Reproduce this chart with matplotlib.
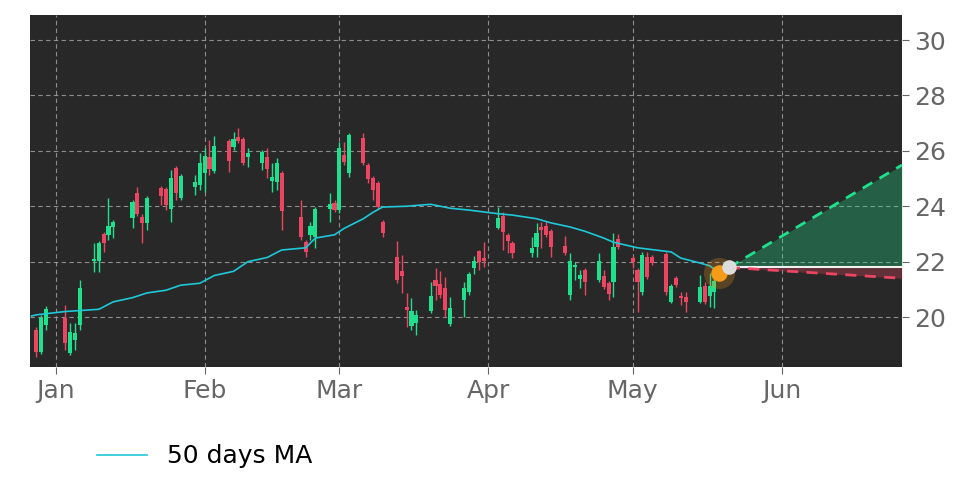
import matplotlib
matplotlib.use("Agg")
import matplotlib.pyplot as plt
import matplotlib.dates as mdates
import numpy as np
import pandas as pd

# trading days shown (NYSE holidays skipped)
holidays = ["2023-01-02", "2023-01-16", "2023-02-20", "2023-04-07"]
dates = pd.bdate_range("2022-12-28", "2023-05-18", freq="C", holidays=holidays)

opens = [19.53, 18.74, 19.71, 19.96, 18.70, 19.17, 19.71, 22.02, 22.02, 23.00,
         22.96, 23.25, 23.57, 24.48, 23.61, 23.39, 24.66, 24.62, 23.90, 25.38,
         24.30, 24.69, 24.77, 25.20, 25.78, 25.27, 26.35, 26.14, 26.50, 26.43,
         25.78, 25.56, 25.78, 24.91, 24.87, 25.20, 23.61, 22.71, 22.96, 22.89,
         23.90, 24.12, 23.86, 25.85, 25.20, 26.46, 25.49, 25.02, 24.84, 23.43,
         22.17, 21.66, 20.36, 19.68, 19.78, 20.22, 21.34, 21.19, 21.05, 19.75,
         20.61, 20.90, 21.77, 22.38, 22.13, 23.21, 23.65, 22.96, 22.67, 22.31,
         22.53, 23.25, 23.29, 23.10, 22.56, 20.79, 21.80, 21.37, 21.70, 21.34,
         21.48, 21.23, 21.26, 22.82, 22.13, 21.70, 20.90, 22.17, 22.17, 22.27,
         20.54, 21.41, 20.76, 20.72, 20.54, 21.12, 20.76, 20.90]
highs = [19.64, 20.07, 20.40, 20.43, 19.78, 19.78, 21.34, 22.67, 22.74, 23.07,
         24.30, 23.50, 24.22, 24.69, 23.72, 24.37, 24.73, 24.69, 25.31, 25.45,
         25.16, 25.13, 25.92, 26.10, 26.39, 26.53, 26.43, 26.68, 26.82, 26.50,
         26.10, 26.03, 26.10, 25.56, 25.74, 25.27, 24.22, 22.78, 23.43, 23.97,
         24.48, 24.22, 26.32, 26.32, 26.64, 26.64, 25.56, 25.09, 24.91, 23.50,
         22.74, 22.24, 20.87, 20.69, 20.25, 21.26, 21.77, 21.66, 21.44, 20.72,
         21.26, 21.62, 22.20, 22.42, 22.71, 23.97, 23.79, 23.03, 22.74, 22.89,
         23.39, 23.43, 23.47, 23.18, 22.92, 22.31, 21.99, 21.70, 21.77, 22.31,
         21.70, 21.30, 23.03, 23.00, 22.20, 21.77, 22.35, 22.35, 22.24, 22.35,
         21.19, 21.48, 20.90, 20.90, 21.52, 21.26, 21.59, 21.62]
lows = [18.56, 18.66, 19.53, 18.81, 18.63, 18.81, 19.53, 21.62, 21.62, 22.35,
        22.78, 22.85, 23.21, 23.65, 22.67, 23.14, 24.04, 23.86, 23.43, 24.22,
        24.22, 24.40, 24.58, 24.51, 25.13, 25.20, 25.23, 26.03, 26.28, 25.49,
        25.42, 25.31, 25.02, 24.51, 24.58, 23.14, 22.78, 22.17, 22.78, 22.49,
        23.43, 23.79, 23.75, 25.49, 25.05, 25.49, 24.84, 24.22, 23.90, 22.89,
        21.23, 20.87, 19.64, 19.53, 19.35, 20.14, 20.61, 20.69, 20.00, 19.68,
        20.00, 20.79, 21.55, 21.70, 21.80, 23.18, 22.42, 22.31, 22.13, 22.17,
        22.17, 22.49, 22.89, 22.17, 22.24, 20.61, 21.34, 21.05, 20.79, 21.26,
        21.01, 20.61, 20.72, 22.45, 21.77, 20.18, 20.79, 21.37, 21.88, 20.79,
        20.51, 21.08, 20.43, 20.18, 20.51, 20.47, 20.36, 20.32]
closes = [18.74, 19.96, 20.29, 19.06, 19.46, 19.42, 21.05, 22.09, 22.67, 22.67,
          23.29, 23.43, 24.15, 23.72, 23.39, 24.30, 24.37, 24.04, 25.02, 24.48,
          25.09, 24.87, 25.56, 25.81, 25.34, 26.17, 25.63, 26.43, 26.35, 25.56,
          25.92, 25.96, 25.34, 25.05, 25.56, 23.83, 22.89, 22.35, 23.29, 23.90,
          24.08, 23.86, 26.10, 25.60, 26.57, 25.56, 24.98, 24.58, 23.97, 23.03,
          21.34, 21.48, 20.25, 20.22, 20.07, 20.76, 21.12, 20.79, 20.25, 20.32,
          21.05, 21.55, 22.02, 21.99, 22.02, 23.57, 23.07, 22.74, 22.31, 22.49,
          23.03, 23.14, 22.96, 22.53, 22.31, 22.02, 21.88, 21.52, 21.26, 22.02,
          21.08, 20.83, 22.53, 22.53, 21.99, 21.26, 22.24, 21.44, 21.95, 20.90,
          21.12, 21.16, 20.69, 20.54, 21.08, 20.54, 21.12, 21.30]

# 50 days moving average, read at sampled dates
ma_dates = ["2022-12-27", "2022-12-28", "2023-01-03", "2023-01-10", "2023-01-13",
            "2023-01-17", "2023-01-20", "2023-01-24", "2023-01-27", "2023-01-31",
            "2023-02-03", "2023-02-07", "2023-02-10", "2023-02-14", "2023-02-17",
            "2023-02-22", "2023-02-24", "2023-02-28", "2023-03-02", "2023-03-06",
            "2023-03-08", "2023-03-10", "2023-03-15", "2023-03-20", "2023-03-22",
            "2023-03-24", "2023-03-28", "2023-04-03", "2023-04-06", "2023-04-11",
            "2023-04-14", "2023-04-18", "2023-04-21", "2023-04-25", "2023-04-27",
            "2023-05-02", "2023-05-09", "2023-05-11", "2023-05-15", "2023-05-17",
            "2023-05-18"]
ma_values = [20.04, 20.08, 20.20, 20.28, 20.55, 20.70, 20.87, 20.97, 21.15, 21.22,
             21.50, 21.65, 22.00, 22.15, 22.42, 22.50, 22.85, 22.97, 23.20, 23.55,
             23.78, 23.97, 24.00, 24.07, 24.00, 23.93, 23.86, 23.73, 23.68, 23.55,
             23.40, 23.25, 23.10, 22.85, 22.70, 22.50, 22.35, 22.13, 21.95, 21.85,
             21.73]

last_date, last_price = "2023-05-19", 21.58
proj_start, proj_start_price = "2023-05-21", 21.79
proj_end = "2023-06-26"
proj_high, proj_low = 25.49, 21.40

up_col = "#1fe08c"
down_col = "#eb4562"

fig = plt.figure(figsize=(9.72, 4.86), dpi=100)
ax = fig.add_axes([0.031, 0.245, 0.897, 0.724])
ax.set_facecolor("#282828")

x = mdates.date2num(dates)
o = np.array(opens)
h = np.array(highs)
l = np.array(lows)
c = np.array(closes)
cols = np.where(c >= o, up_col, down_col)

ax.vlines(x, l, h, colors=cols, linewidth=1, zorder=3)
body = np.maximum(np.abs(c - o), 0.06)
ax.bar(x, body, bottom=np.minimum(o, c), width=0.85, color=cols, linewidth=0, zorder=4)

ax.plot(mdates.date2num(pd.to_datetime(ma_dates)), ma_values, color="#1ec8d8",
        linewidth=1.2, zorder=5, label="50 days MA")

# projection cone
px = mdates.date2num(pd.to_datetime([proj_start, proj_end]))
ax.fill_between(px, [proj_start_price, proj_start_price], [proj_start_price, proj_high],
                color=up_col, alpha=0.3, linewidth=0, zorder=2)
ax.fill_between(px, [proj_start_price, proj_low], [proj_start_price, proj_start_price],
                color=down_col, alpha=0.3, linewidth=0, zorder=2)
ax.plot(px, [proj_start_price, proj_start_price], color="#f0f0f0", linewidth=1.5, zorder=6)
ax.plot(px, [proj_start_price, proj_high], color=up_col, linewidth=2, dashes=(4, 3), zorder=6)
ax.plot(px, [proj_start_price, proj_low], color=down_col, linewidth=2, dashes=(4, 3), zorder=6)

lx = mdates.date2num(pd.to_datetime(last_date))
ax.scatter([lx], [last_price], s=500, color="#f59b1a", alpha=0.25, linewidth=0, zorder=7)
ax.scatter([lx], [last_price], s=140, color="#f59b1a", linewidth=0, zorder=8)
ax.scatter([px[0]], [proj_start_price], s=110, color="#dcdcdc", linewidth=0, zorder=9)

ax.set_xlim(mdates.date2num(pd.Timestamp("2022-12-26 17:00")), px[1])
ax.set_ylim(18.2, 30.9)
ax.yaxis.tick_right()
ax.set_yticks([20, 22, 24, 26, 28, 30])
ax.xaxis.set_major_locator(mdates.MonthLocator())
ax.xaxis.set_major_formatter(mdates.DateFormatter("%b"))
ax.tick_params(colors="#666666", labelsize=18, length=5)
ax.grid(True, color="#a8a8a8", linestyle=(0, (4, 3)), linewidth=0.8, alpha=0.8)
for s in ax.spines.values():
    s.set_visible(False)

fig.legend(loc="lower left", bbox_to_anchor=(0.077, -0.01), frameon=False,
           fontsize=18, handlelength=2.0, handletextpad=0.8)

fig.savefig("out.png", dpi=100)
